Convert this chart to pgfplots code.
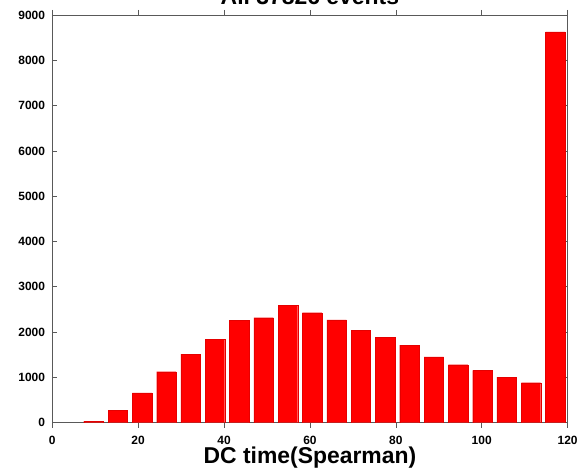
\documentclass[border=0pt]{standalone}
\usepackage{fontspec}
\setmainfont{Liberation Sans}
\usepackage{pgfplots}
\pgfplotsset{compat=1.18}
\begin{document}
\begin{tikzpicture}
\begin{axis}[
  at={(0,0)}, anchor=south west,
  scale only axis,
  width=515.4bp, height=407.7bp,
  xmin=0, xmax=120, ymin=0, ymax=9000,
  xtick={0,20,...,120},
  ytick={0,1000,...,9000},
  /pgf/number format/assume math mode=true,
  scaled y ticks=false,
  yticklabel style={/pgf/number format/fixed, /pgf/number format/1000 sep={}},
  tick label style={font=\fontsize{12}{12}\selectfont\bfseries, inner sep=0pt},
  xticklabel style={yshift=-8bp},
  yticklabel style={xshift=-7bp},
  major tick length=5bp,
  tick align=inside,
  axis line style={black!65, line width=0.6bp},
  every tick/.style={black!65, line width=0.6bp},
  xlabel={DC time(Spearman)},
  every axis x label/.style={at={(axis description cs:0.5,0)}, anchor=base, yshift=-40.3bp, inner sep=0pt, font=\fontsize{23}{23}\selectfont\bfseries},
  title={All 37826 events},
  every axis title/.style={at={(axis description cs:0.5,1)}, anchor=base, yshift=10bp, inner sep=0pt, font=\fontsize{23}{23}\selectfont\bfseries},
  ybar, bar width=4.53,
]
\addplot[fill=red, draw=red!90!black, line width=0.2bp] coordinates {
(9.6,30) (15.26,280) (20.92,660) (26.58,1125) (32.24,1515)
(37.9,1840) (43.56,2260) (49.22,2320) (54.88,2590) (60.54,2430)
(66.2,2270) (71.86,2045) (77.52,1885) (83.18,1715) (88.84,1455)
(94.5,1280) (100.16,1155) (105.82,1005) (111.48,885) (117.14,8630)
};
\end{axis}
\pgfresetboundingbox
\useasboundingbox (-52.2bp,-46.3bp) rectangle (533.8bp,422.7bp);
\end{tikzpicture}
\end{document}
